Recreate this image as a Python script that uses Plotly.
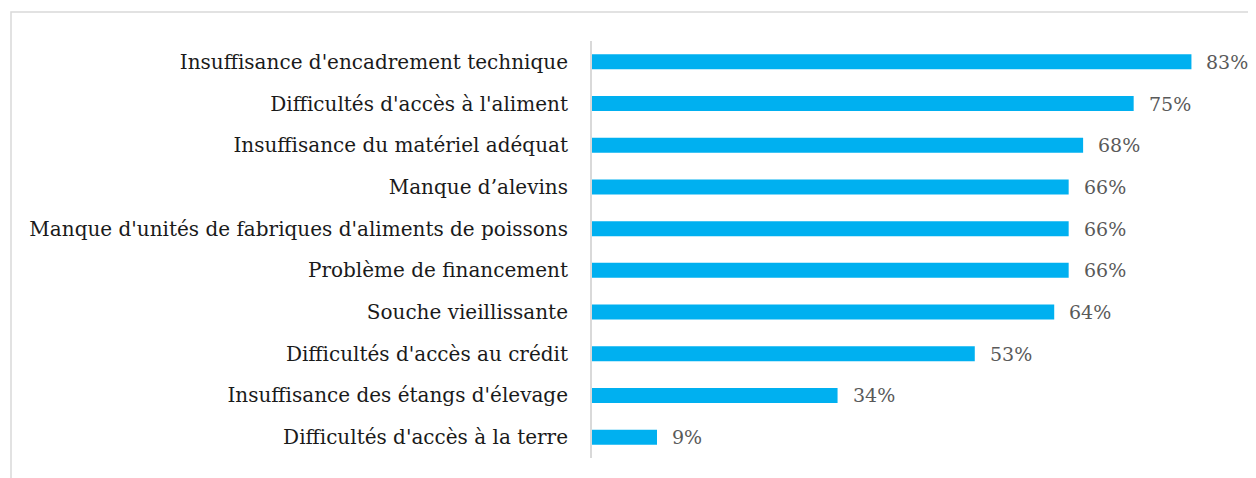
import plotly.graph_objects as go

# contraintes (du bas vers le haut)
contraintes = [
    "Difficultés d'accès à la terre",
    "Insuffisance des étangs d'élevage",
    "Difficultés d'accès au crédit",
    "Souche vieillissante",
    "Problème de financement",
    "Manque d'unités de fabriques d'aliments de poissons",
    "Manque d’alevins",
    "Insuffisance du matériel adéquat",
    "Difficultés d'accès à l'aliment",
    "Insuffisance d'encadrement technique",
]
pourcentages = [9, 34, 53, 64, 66, 66, 66, 68, 75, 83]

# la page html ajoute une marge de 8 px autour de la figure
W, H = 1256, 478
ml, mr, mt, mb = 584, 22, 33, 28
POLICE = "DejaVu Serif"

fig = go.Figure(go.Bar(
    x=pourcentages,
    y=contraintes,
    orientation="h",
    marker=dict(color="#00B0F0", line=dict(width=0)),
    hoverinfo="skip",
))

# étiquettes de valeur
for v, c in zip(pourcentages, contraintes):
    fig.add_annotation(
        x=v, y=c, text=f"{v}%", showarrow=False,
        xanchor="left", yanchor="middle", xshift=13,
        font=dict(family=POLICE, size=19, color="#595959"),
    )

fig.update_xaxes(range=[0, 90], visible=False, fixedrange=True)
fig.update_yaxes(
    showline=True, linecolor="#D9D9D9", linewidth=2,
    ticks="", ticklabelstandoff=18,
    tickfont=dict(family=POLICE, size=20, color="#1A1A1A"),
    showgrid=False,
)

# cadre du graphique
pw = W - ml - mr
ph = H - mt - mb
fig.add_shape(
    type="rect", xref="paper", yref="paper",
    x0=(3 - ml) / pw, x1=2, y0=-1, y1=(H - mb - 4) / ph,
    line=dict(color="#D9D9D9", width=1.5), layer="below",
)

fig.update_layout(
    width=W, height=H,
    margin=dict(l=ml, r=mr, t=mt, b=mb),
    bargap=0.64,
    plot_bgcolor="white",
    paper_bgcolor="white",
    showlegend=False,
)

fig.write_html("out.html")
